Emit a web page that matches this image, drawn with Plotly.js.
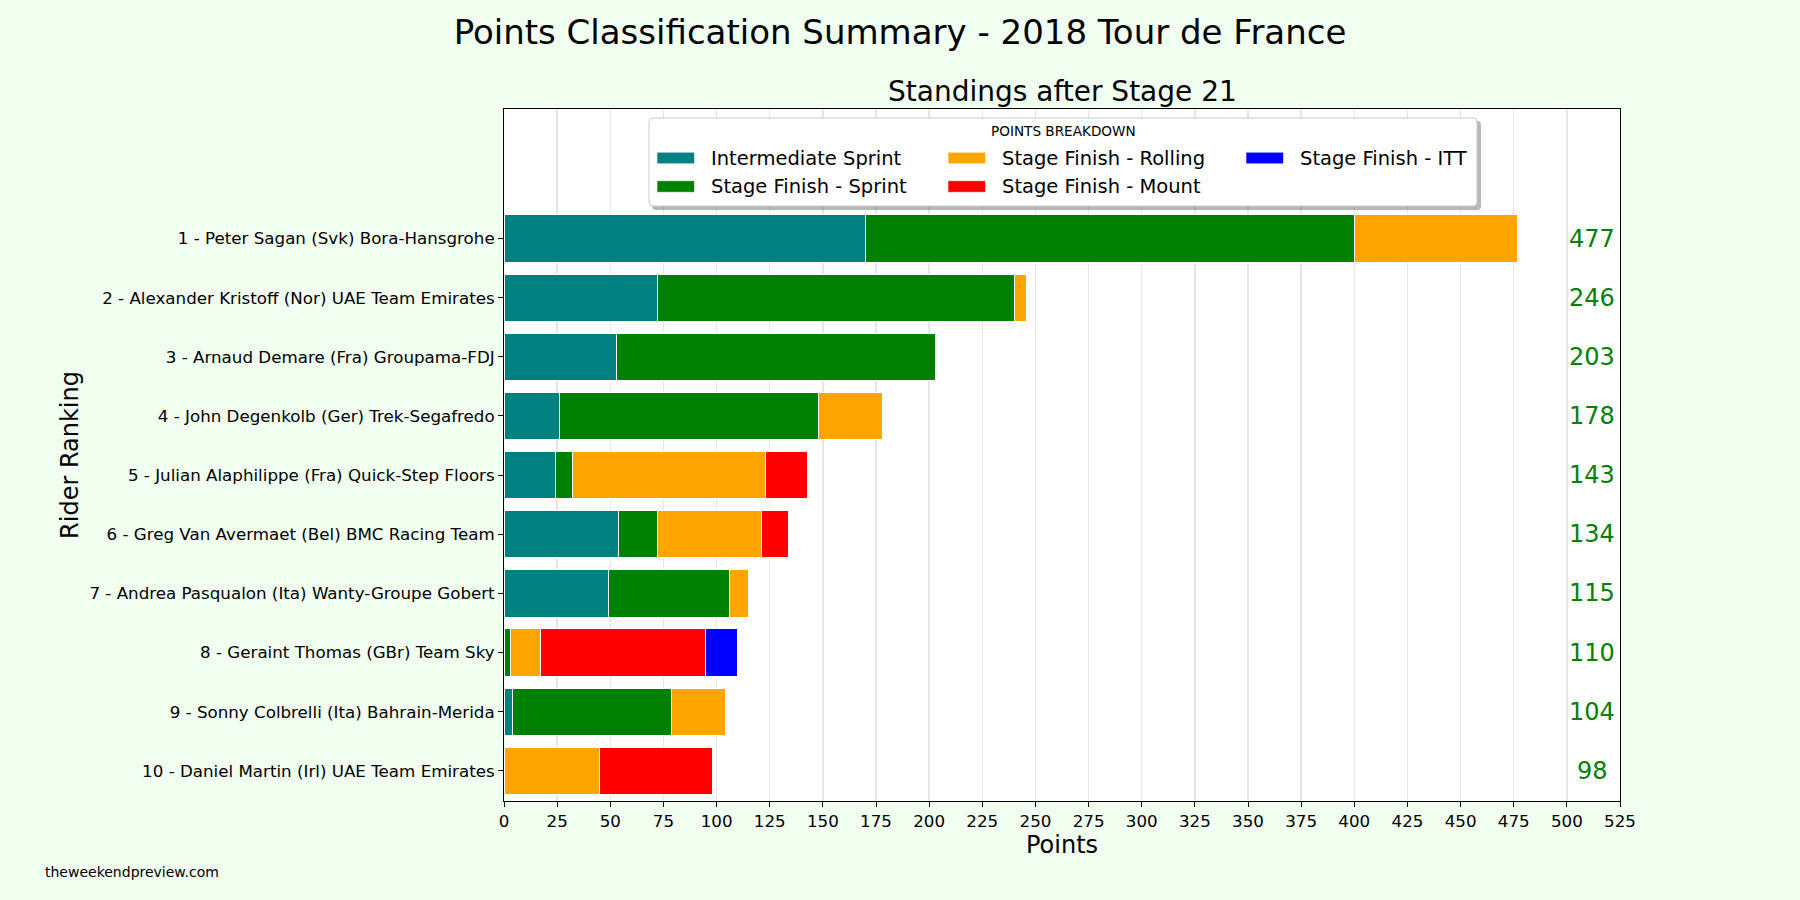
<!DOCTYPE html>
<html>
<head>
<meta charset="utf-8">
<script src="https://cdn.plot.ly/plotly-3.0.1.min.js"></script>
<style>html,body{margin:0;padding:0;background:#f0fff0;}#chart{width:1800px;height:900px;}</style>
</head>
<body>
<div id="chart"></div>
<script>
const riders = [
  "1 - Peter Sagan (Svk) Bora-Hansgrohe",
  "2 - Alexander Kristoff (Nor) UAE Team Emirates",
  "3 - Arnaud Demare (Fra) Groupama-FDJ",
  "4 - John Degenkolb (Ger) Trek-Segafredo",
  "5 - Julian Alaphilippe (Fra) Quick-Step Floors",
  "6 - Greg Van Avermaet (Bel) BMC Racing Team",
  "7 - Andrea Pasqualon (Ita) Wanty-Groupe Gobert",
  "8 - Geraint Thomas (GBr) Team Sky",
  "9 - Sonny Colbrelli (Ita) Bahrain-Merida",
  "10 - Daniel Martin (Irl) UAE Team Emirates"
];
const seriesNames = ["Intermediate Sprint", "Stage Finish - Sprint", "Stage Finish - Rolling",
                     "Stage Finish - Mount", "Stage Finish - ITT"];
const intermediateSprint = [170, 72, 53, 26, 24, 54, 49, 0, 4, 0];
const finishSprint       = [230, 168, 150, 122, 8, 18, 57, 3, 75, 0];
const finishRolling      = [77, 6, 0, 30, 91, 49, 9, 14, 25, 45];
const finishMount        = [0, 0, 0, 0, 20, 13, 0, 78, 0, 53];
const finishITT          = [0, 0, 0, 0, 0, 0, 0, 15, 0, 0];
const totals             = [477, 246, 203, 178, 143, 134, 115, 110, 104, 98];

const colors = ["#008080", "#008000", "#FFA500", "#FF0000", "#0000FF"];
const idx = riders.map((_, i) => i);
const font = "DejaVu Sans, sans-serif";
const seriesVals = [intermediateSprint, finishSprint, finishRolling, finishMount, finishITT];

const traces = seriesNames.map((name, k) => ({
  type: "bar", orientation: "h", name: name,
  x: seriesVals[k], y: idx,
  marker: {color: colors[k], line: {color: "white", width: 1}},
  width: 0.8, hoverinfo: "x+name"
}));

const L = 504, R = 180, T = 109, B = 99, W = 1800, H = 900;
const pw = W - L - R, ph = H - T - B;
const px = v => (v - L) / pw;          // page x (px) -> paper
const py = v => (H - B - v) / ph;      // page y (px) -> paper

const annotations = totals.map((t, i) => ({
  x: 512, y: i, xref: "x", yref: "y", text: String(t), showarrow: false,
  font: {family: font, size: 24, color: "#008000"}, xanchor: "center", yanchor: "middle"
}));
annotations.push({
  x: 0.5, y: 1.026, xref: "paper", yref: "paper", text: "Standings after Stage 21",
  showarrow: false, font: {family: font, size: 28, color: "black"}, yanchor: "middle"
});
annotations.push({
  x: px(43), y: py(872), xref: "paper", yref: "paper", text: "theweekendpreview.com",
  showarrow: false, font: {family: font, size: 14, color: "black"}, xanchor: "left", yanchor: "middle"
});
annotations.push({
  x: px(1063), y: py(131), xref: "paper", yref: "paper", text: "POINTS BREAKDOWN",
  showarrow: false, font: {family: font, size: 13.6, color: "black"}, xanchor: "center", yanchor: "middle"
});

function rrPaper(x0, y0, x1, y1, r) {
  const rx = r / pw, ry = r / ph;
  const a = px(x0), b = px(x1), c = py(y1), d = py(y0);
  return `M${a + rx},${d} L${b - rx},${d} Q${b},${d} ${b},${d - ry} L${b},${c + ry} Q${b},${c} ${b - rx},${c} ` +
         `L${a + rx},${c} Q${a},${c} ${a},${c + ry} L${a},${d - ry} Q${a},${d} ${a + rx},${d} Z`;
}
const shapes = [
  {type: "path", xref: "paper", yref: "paper", layer: "above",
   path: rrPaper(652, 121, 1481, 210, 4), fillcolor: "rgba(0,0,0,0.28)", line: {width: 0}},
  {type: "path", xref: "paper", yref: "paper", layer: "above",
   path: rrPaper(649, 118, 1477, 206, 4), fillcolor: "white", line: {color: "#cccccc", width: 1}}
];

// legend entries laid out in 3 columns, column-major like the reference
const colX = [657, 948, 1246];   // swatch left edges (px)
const rowY = [158, 186.5];       // row centres (px)
seriesNames.forEach((name, k) => {
  const col = Math.floor(k / 2), row = k % 2;
  const x0 = colX[col], yc = rowY[row];
  shapes.push({type: "rect", xref: "paper", yref: "paper", layer: "above",
    x0: px(x0), x1: px(x0 + 37.5), y0: py(yc + 5.8), y1: py(yc - 5.8),
    fillcolor: colors[k], line: {color: "rgba(255,255,255,0.6)", width: 1}});
  annotations.push({x: px(x0 + 51.5), y: py(yc), xref: "paper", yref: "paper", text: name,
    showarrow: false, xanchor: "left", yanchor: "middle",
    font: {family: font, size: 19.5, color: "black"}});
});

const layout = {
  width: W, height: H,
  paper_bgcolor: "#f0fff0", plot_bgcolor: "white",
  margin: {l: L, r: R, t: T, b: B, pad: 0},
  barmode: "stack", bargap: 0.2,
  title: {text: "Points Classification Summary - 2018 Tour de France",
          x: 0.5, xanchor: "center", y: 1 - 32 / H, yanchor: "middle",
          font: {family: font, size: 34, color: "black"}},
  xaxis: {
    range: [0, 525], dtick: 25, tick0: 0,
    showgrid: true, gridcolor: "#e6e6e6", gridwidth: 1.5,
    showline: true, linecolor: "black", linewidth: 1, mirror: true,
    ticks: "outside", ticklen: 5, tickcolor: "black",
    tickfont: {family: font, size: 16.7, color: "black"},
    title: {text: "Points", font: {family: font, size: 24, color: "black"}, standoff: 6},
    zeroline: false, fixedrange: true
  },
  yaxis: {
    range: [9.51, -2.19], tickvals: idx, ticktext: riders,
    showgrid: false, zeroline: false,
    showline: true, linecolor: "black", linewidth: 1, mirror: true,
    ticks: "outside", ticklen: 5, tickcolor: "black",
    tickfont: {family: font, size: 16.7, color: "black"},
    title: {text: "Rider Ranking", font: {family: font, size: 24, color: "black"}, standoff: 3},
    fixedrange: true
  },
  annotations: annotations,
  shapes: shapes,
  showlegend: false
};

Plotly.newPlot("chart", traces, layout, {displayModeBar: false, staticPlot: true});
</script>
</body>
</html>
